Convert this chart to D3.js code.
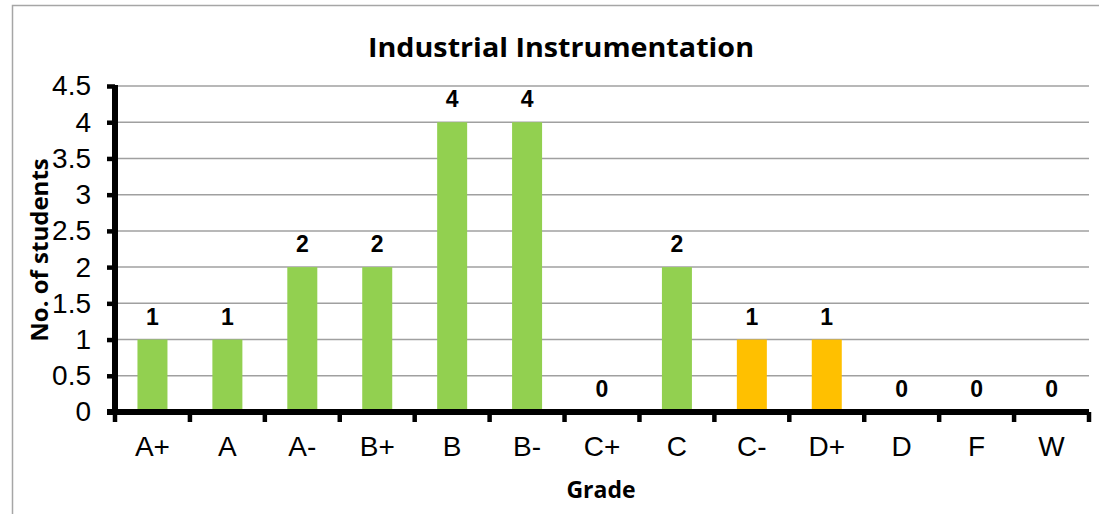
<!DOCTYPE html>
<html><head><meta charset="utf-8">
<script src="https://cdn.jsdelivr.net/npm/d3@7"></script>
<style>body{margin:0;background:#fff}svg{display:block}</style>
</head><body>
<script>
const categories = ["A+","A","A-","B+","B","B-","C+","C","C-","D+","D","F","W"];
const values = [1,1,2,2,4,4,0,2,1,1,0,0,0];
const colors = ["#92D050","#92D050","#92D050","#92D050","#92D050","#92D050","#92D050","#92D050","#FFC000","#FFC000","#92D050","#92D050","#92D050"];
const yTicks = [0,0.5,1,1.5,2,2.5,3,3.5,4,4.5];
const title = "Industrial Instrumentation";
const xTitle = "Grade";
const yTitle = "No. of students";

const W = 1099, H = 514;
const svg = d3.select("body").append("svg").attr("width", W).attr("height", H);
svg.append("rect").attr("x",12.5).attr("y",5.5).attr("width",1100).attr("height",520)
  .attr("fill","none").attr("stroke","#a6a6a6").attr("stroke-width",1.5);

const pLeft = 115, pRight = 1089, pTop = 86, pBottom = 412;
const xb = d3.scaleBand().domain(categories).range([pLeft, pRight]);
const y = d3.scaleLinear().domain([0,4.5]).range([pBottom, pTop]);

// grid
svg.append("g").selectAll("line").data(yTicks.filter(d=>d>0)).join("line")
  .attr("x1", pLeft).attr("x2", pRight).attr("y1", d=>y(d)).attr("y2", d=>y(d))
  .attr("stroke","#a0a0a0").attr("stroke-width",1.5);

// bars
svg.append("g").selectAll("rect").data(values).join("rect")
  .attr("x",(d,i)=>xb(categories[i]) + (xb.bandwidth()-30)/2)
  .attr("width",30)
  .attr("y",d=>y(d)).attr("height",d=>pBottom-y(d))
  .attr("fill",(d,i)=>colors[i]);

// value labels
svg.append("g").selectAll("text").data(values).join("text")
  .attr("x",(d,i)=>xb(categories[i]) + xb.bandwidth()/2)
  .attr("y",d=>y(d)-15)
  .attr("text-anchor","middle")
  .attr("font-family","Liberation Sans, Arial, sans-serif").attr("font-weight","bold").attr("font-size",23)
  .text(d=>d);

// y axis
const yAxis = svg.append("g").attr("transform",`translate(${pLeft},0)`)
  .call(d3.axisLeft(y).tickValues(yTicks).tickSize(8).tickPadding(16).tickFormat(d=>String(d)));
yAxis.select(".domain").attr("stroke","#000").attr("stroke-width",6).attr("d",`M0,${pTop-1}V${pBottom+2}`);
yAxis.selectAll(".tick line").attr("stroke","#000").attr("stroke-width",4.5);
yAxis.selectAll("text").attr("font-family","Liberation Sans, Arial, sans-serif").attr("font-size",28).attr("fill","#000");

// x axis
const xAxis = svg.append("g").attr("transform",`translate(0,${pBottom})`)
  .call(d3.axisBottom(xb).tickSize(0).tickPadding(24));
xAxis.select(".domain").attr("stroke","#000").attr("stroke-width",6).attr("d",`M${pLeft-8},0H${pRight}`);
xAxis.selectAll("text").attr("font-family","Liberation Sans, Arial, sans-serif").attr("font-size",28).attr("fill","#000");
svg.append("g").selectAll("line").data(categories.map((c,i)=>i).concat([categories.length])).join("line")
  .attr("x1",i=>pLeft + i*xb.step()).attr("x2",i=>pLeft + i*xb.step())
  .attr("y1",pBottom).attr("y2",pBottom+10).attr("stroke","#000").attr("stroke-width",4.5);

// titles
svg.append("text").attr("x",561).attr("y",57).attr("text-anchor","middle")
  .attr("font-family","Open Sans, sans-serif").attr("font-weight","bold").attr("font-size",27)
  .attr("textLength",386).attr("lengthAdjust","spacingAndGlyphs").text(title);
svg.append("text").attr("x",601).attr("y",498).attr("text-anchor","middle")
  .attr("font-family","Open Sans, sans-serif").attr("font-weight","bold").attr("font-size",23).text(xTitle);
svg.append("text").attr("transform","translate(48,250) rotate(-90)").attr("text-anchor","middle")
  .attr("font-family","Open Sans, sans-serif").attr("font-weight","bold").attr("font-size",24).text(yTitle);
</script>
</body></html>
